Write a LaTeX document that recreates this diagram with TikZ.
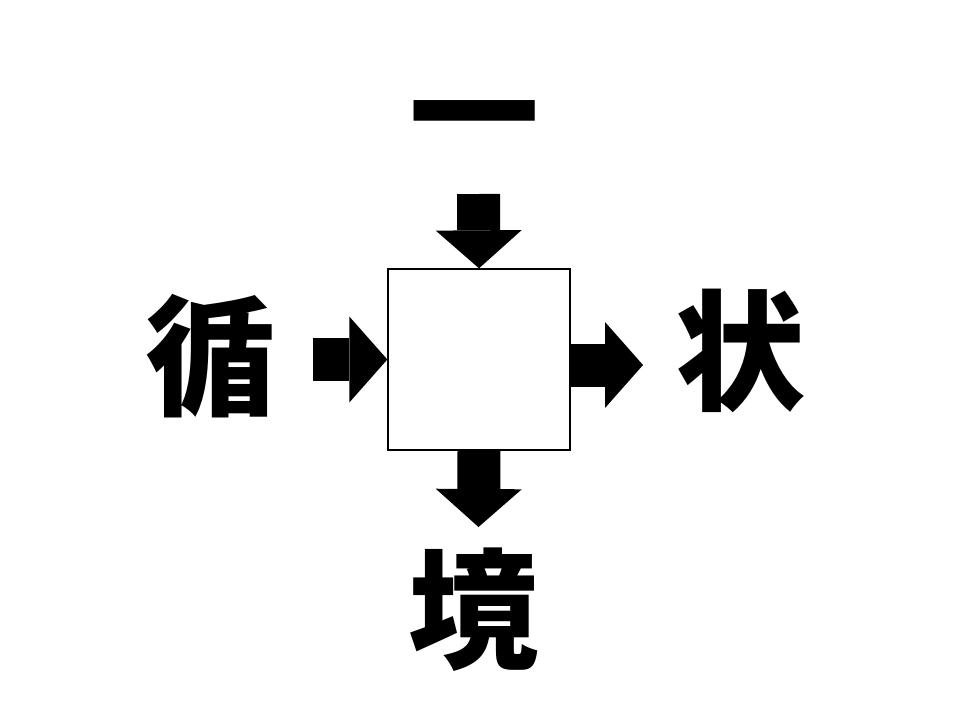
\documentclass[tikz,border=0pt]{standalone}
\usepackage{fontspec}
\usepackage{tikz}
\usetikzlibrary{arrows.meta,positioning,calc}
\newfontfamily\jpfont{Noto Sans CJK JP}

\begin{document}
\begin{tikzpicture}[x=0.02cm,y=-0.02cm]
\tikzstyle{fleche}=[-{Triangle[length=0.76cm,width=1.72cm,line width=0pt]},line width=0.86cm]
\tikzstyle{kanji}=[inner sep=0pt,font=\jpfont\bfseries\fontsize{74pt}{76pt}\selectfont]
\tikzstyle{case}=[draw,line width=0.8pt,minimum width=3.64cm,minimum height=3.62cm,inner sep=0pt]
\useasboundingbox (0,0) rectangle (960,720);
\node[case] (C) at (479,359.5) {};
\node[kanji] (H) at (475,131) {一};
\node[kanji] (G) at (211,356) {循};
\node[kanji] (D) at (740,351) {状};
\node[kanji] (B) at (474,610) {境};
\coordinate (Hd) at (478.5,194);
\coordinate (Gd) at (313,359.5);
\coordinate (Dd) at (570,365);
\coordinate (Df) at (643,365);
\coordinate (Bf) at (478.5,527);
\draw[fleche] (Hd)--(C.north);
\draw[fleche] (Gd)--(C.west);
\draw[fleche] (Dd)--(Df);
\draw[fleche] (C.south)--(Bf);
\end{tikzpicture}
\end{document}
